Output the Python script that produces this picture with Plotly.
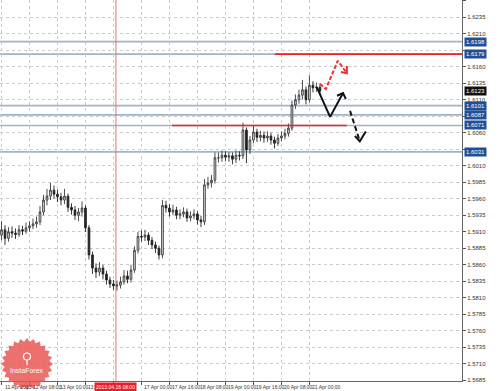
import numpy as np
import plotly.graph_objects as go

# ---------------- data ----------------
bars = list(range(92))
opens = [1.5905, 1.5913, 1.5900, 1.5910, 1.5908, 1.5906, 1.5913, 1.5911, 1.5916, 1.5919,
         1.5922, 1.5925, 1.5940, 1.5958, 1.5964, 1.5973, 1.5967, 1.5963, 1.5958, 1.5964,
         1.5947, 1.5943, 1.5935, 1.5940, 1.5946, 1.5916, 1.5875, 1.5855, 1.5849, 1.5855,
         1.5846, 1.5837, 1.5831, 1.5828, 1.5829, 1.5834, 1.5843, 1.5838, 1.5852, 1.5882,
         1.5903, 1.5902, 1.5905, 1.5897, 1.5890, 1.5885, 1.5875, 1.5950, 1.5946, 1.5940,
         1.5943, 1.5935, 1.5937, 1.5940, 1.5931, 1.5934, 1.5937, 1.5928, 1.5925, 1.5981,
         1.5984, 1.5988, 1.6022, 1.6022, 1.6026, 1.6023, 1.6025, 1.6020, 1.6026, 1.6025,
         1.6064, 1.6034, 1.6049, 1.6061, 1.6053, 1.6056, 1.6052, 1.6055, 1.6049, 1.6044,
         1.6052, 1.6055, 1.6059, 1.6067, 1.6102, 1.6110, 1.6117, 1.6125, 1.6110, 1.6132,
         1.6128, 1.6129]
highs = [1.5926, 1.5920, 1.5917, 1.5918, 1.5915, 1.5920, 1.5919, 1.5924, 1.5926, 1.5930,
         1.5933, 1.5949, 1.5966, 1.5975, 1.5984, 1.5980, 1.5974, 1.5969, 1.5975, 1.5968,
         1.5953, 1.5949, 1.5946, 1.5956, 1.5950, 1.5920, 1.5880, 1.5862, 1.5864, 1.5860,
         1.5851, 1.5842, 1.5837, 1.5836, 1.5842, 1.5852, 1.5851, 1.5860, 1.5888, 1.5910,
         1.5912, 1.5913, 1.5909, 1.5902, 1.5895, 1.5889, 1.5958, 1.5957, 1.5952, 1.5951,
         1.5948, 1.5944, 1.5947, 1.5945, 1.5941, 1.5944, 1.5941, 1.5934, 1.5990, 1.5993,
         1.5996, 1.6030, 1.6030, 1.6033, 1.6032, 1.6031, 1.6030, 1.6033, 1.6032, 1.6075,
         1.6068, 1.6055, 1.6072, 1.6066, 1.6063, 1.6062, 1.6062, 1.6060, 1.6054, 1.6058,
         1.6062, 1.6066, 1.6074, 1.6109, 1.6118, 1.6125, 1.6140, 1.6130, 1.6147, 1.6138,
         1.6136, 1.6133]
lows = [1.5897, 1.5890, 1.5895, 1.5901, 1.5899, 1.5902, 1.5905, 1.5907, 1.5910, 1.5914,
        1.5916, 1.5920, 1.5935, 1.5950, 1.5958, 1.5960, 1.5955, 1.5950, 1.5952, 1.5940,
        1.5936, 1.5928, 1.5926, 1.5933, 1.5910, 1.5868, 1.5846, 1.5840, 1.5843, 1.5838,
        1.5830, 1.5825, 1.5822, 1.5821, 1.5824, 1.5830, 1.5832, 1.5833, 1.5848, 1.5877,
        1.5895, 1.5896, 1.5890, 1.5884, 1.5878, 1.5868, 1.5870, 1.5939, 1.5933, 1.5935,
        1.5929, 1.5929, 1.5932, 1.5925, 1.5926, 1.5929, 1.5921, 1.5917, 1.5920, 1.5975,
        1.5977, 1.5983, 1.6015, 1.6016, 1.6017, 1.6016, 1.6012, 1.6014, 1.6018, 1.6020,
        1.6014, 1.6028, 1.6044, 1.6046, 1.6047, 1.6045, 1.6046, 1.6042, 1.6036, 1.6040,
        1.6047, 1.6050, 1.6054, 1.6063, 1.6096, 1.6104, 1.6111, 1.6103, 1.6106, 1.6121,
        1.6122, 1.6118]
closes = [1.5913, 1.5900, 1.5910, 1.5908, 1.5906, 1.5913, 1.5911, 1.5916, 1.5919, 1.5922,
          1.5925, 1.5940, 1.5958, 1.5964, 1.5973, 1.5967, 1.5963, 1.5958, 1.5964, 1.5947,
          1.5943, 1.5935, 1.5940, 1.5946, 1.5916, 1.5875, 1.5855, 1.5849, 1.5855, 1.5846,
          1.5837, 1.5831, 1.5828, 1.5829, 1.5834, 1.5843, 1.5838, 1.5852, 1.5882, 1.5903,
          1.5902, 1.5905, 1.5897, 1.5890, 1.5885, 1.5875, 1.5950, 1.5946, 1.5940, 1.5943,
          1.5935, 1.5937, 1.5940, 1.5931, 1.5934, 1.5937, 1.5928, 1.5925, 1.5981, 1.5984,
          1.5988, 1.6022, 1.6022, 1.6026, 1.6023, 1.6025, 1.6020, 1.6026, 1.6025, 1.6064,
          1.6034, 1.6049, 1.6061, 1.6053, 1.6056, 1.6052, 1.6055, 1.6049, 1.6044, 1.6052,
          1.6055, 1.6059, 1.6067, 1.6102, 1.6110, 1.6117, 1.6125, 1.6110, 1.6132, 1.6128,
          1.6129, 1.6123]

# time grid every 8 bars; the label at bar 32 is hidden under the red time marker
time_grid_bars = [0, 8, 16, 24, 32, 40, 48, 56, 64, 72, 80, 88]
time_tick_bars = [0, 8, 16, 24, 40, 48, 56, 64, 72, 80, 88]
time_tick_labels = ["11 Apr 2013", "12 Apr 08:00", "13 Apr 00:00", "13 Apr 16:00",
                    "17 Apr 00:00", "17 Apr 16:00", "18 Apr 08:00",
                    "19 Apr 00:00", "19 Apr 16:00", "20 Apr 08:00", "21 Apr 00:00"]

price_ticks = [1.5685, 1.5710, 1.5735, 1.5760, 1.5785, 1.5810, 1.5835, 1.5860, 1.5885,
               1.5910, 1.5935, 1.5960, 1.5985, 1.6010, 1.6035, 1.6060, 1.6085, 1.6110,
               1.6135, 1.6160, 1.6185, 1.6210, 1.6235, 1.6260]
hidden_price_ticks = [1.6035, 1.6085, 1.6185]

level_prices = [1.6198, 1.6179, 1.6101, 1.6087, 1.6071, 1.6031]
level_labels = ["1.6198", "1.6179", "1.6101", "1.6087", "1.6071", "1.6031"]
current_price = 1.6123
current_label = "1.6123"

upper_red_level = 1.6179
upper_red_span = [78.1, 131.6]
lower_red_level = 1.6071
lower_red_span = [48.7, 98.7]

vline_bar = 32.7
vline_label = "2013.04.16 08:00"

# forecast drawings (bar index, price)
red_path_x = [91.0, 92.7, 96.1, 98.7]
red_path_y = [1.6134, 1.6126, 1.6169, 1.6150]
red_head_x = [97.0, 98.7, 98.7]
red_head_y = [1.6152, 1.6150, 1.6161]

blk_path_x = [90.1, 93.9, 97.6]
blk_path_y = [1.6129, 1.6084, 1.6120]
blk_head_x = [95.9, 97.6, 98.4]
blk_head_y = [1.6116, 1.6120, 1.6111]

blkd_path_x = [99.6, 102.4]
blkd_path_y = [1.6093, 1.6047]
blkd_head_x = [101.0, 102.4, 104.1]
blkd_head_y = [1.6055, 1.6047, 1.6062]

X_RANGE = [-0.43, 131.6]
Y_RANGE = [1.5684, 1.6261]

FONT = "Liberation Sans"

# ---------------- figure ----------------
fig = go.Figure()

fig.add_trace(go.Candlestick(
    x=bars, open=opens, high=highs, low=lows, close=closes,
    increasing=dict(line=dict(color="#3a3a3a", width=0.9), fillcolor="#e0e0e0"),
    decreasing=dict(line=dict(color="#222222", width=0.9), fillcolor="#222222"),
    whiskerwidth=0, showlegend=False, hoverinfo="skip"))

def line_trace(xs, ys, color, dash="solid", width=2):
    fig.add_trace(go.Scatter(x=xs, y=ys, mode="lines", showlegend=False, hoverinfo="skip",
                             line=dict(color=color, width=width, dash=dash)))

line_trace(red_path_x, red_path_y, "#f03030", dash="4px,2px")
line_trace(red_head_x, red_head_y, "#f03030")
line_trace(blk_path_x, blk_path_y, "#111111")
line_trace(blk_head_x, blk_head_y, "#111111")
line_trace(blkd_path_x, blkd_path_y, "#111111", dash="5px,3px")
line_trace(blkd_head_x, blkd_head_y, "#111111")

shapes = []
for p in level_prices:
    shapes.append(dict(type="line", xref="paper", x0=0, x1=1, yref="y", y0=p, y1=p,
                       line=dict(color="#9fb4c8", width=1.6), layer="below"))
shapes.append(dict(type="line", xref="x", x0=upper_red_span[0], x1=upper_red_span[1],
                   yref="y", y0=upper_red_level, y1=upper_red_level,
                   line=dict(color="#e8262b", width=1.6)))
shapes.append(dict(type="line", xref="x", x0=lower_red_span[0], x1=lower_red_span[1],
                   yref="y", y0=lower_red_level, y1=lower_red_level,
                   line=dict(color="#e8262b", width=1.6)))
shapes.append(dict(type="line", xref="x", x0=vline_bar, x1=vline_bar, yref="paper", y0=0, y1=1,
                   line=dict(color="#e87070", width=1), layer="below"))

# InstaForex watermark (decorative starburst), in paper coordinates
PW, PH = 462.0, 381.0
cx, cy = 27.0, 364.0
ang = np.linspace(0, 2 * np.pi, 48, endpoint=False)
rad = np.where(np.arange(48) % 2 == 0, 26.0, 22.5)
px = cx + rad * np.cos(ang)
py = cy + rad * np.sin(ang)
path = "M " + " L ".join(f"{x / PW:.5f},{(PH - y) / PH:.5f}" for x, y in zip(px, py)) + " Z"
shapes.append(dict(type="path", xref="paper", yref="paper", path=path,
                   fillcolor="rgba(232,80,78,0.82)", line=dict(width=0), layer="above"))
shapes.append(dict(type="circle", xref="paper", yref="paper",
                   x0=(cx - 3.5) / PW, x1=(cx + 3.5) / PW,
                   y0=(PH - (cy - 4)) / PH, y1=(PH - (cy - 11)) / PH,
                   line=dict(color="white", width=1.2), fillcolor="rgba(0,0,0,0)"))
shapes.append(dict(type="line", xref="paper", yref="paper",
                   x0=cx / PW, x1=cx / PW, y0=(PH - (cy - 4)) / PH, y1=(PH - (cy + 1)) / PH,
                   line=dict(color="white", width=1.2)))

annotations = []
for b, t in zip(time_tick_bars, time_tick_labels):
    annotations.append(dict(x=b, xref="x", y=0, yref="paper", yanchor="top", xanchor="left",
                            xshift=1, yshift=-1, text=t, showarrow=False,
                            font=dict(size=5, color="#333333", family=FONT)))
for p, t in zip(level_prices, level_labels):
    annotations.append(dict(x=1, xref="paper", y=p, yref="y", xanchor="left", yanchor="middle",
                            xshift=2, text=t, showarrow=False, bgcolor="#1f4f96",
                            borderpad=1, font=dict(size=6, color="white", family=FONT)))
annotations.append(dict(x=1, xref="paper", y=current_price, yref="y", xanchor="left",
                        yanchor="middle", xshift=2, text=current_label, showarrow=False,
                        bgcolor="#111111", borderpad=1,
                        font=dict(size=6, color="white", family=FONT)))
annotations.append(dict(x=vline_bar, xref="x", y=0, yref="paper", yanchor="top", xanchor="center",
                        yshift=-1, text=vline_label, showarrow=False, bgcolor="#ee1c24",
                        borderpad=1, font=dict(size=5, color="white", family=FONT)))
annotations.append(dict(x=cx / PW, xref="paper", y=(PH - 370) / PH, yref="paper",
                        xanchor="center", yanchor="middle",
                        text="InstaForex", showarrow=False,
                        font=dict(size=7, color="white", family=FONT)))

tick_text = ["" if v in hidden_price_ticks else f"{v:.4f}" for v in price_ticks]

fig.update_layout(
    width=499, height=391,
    margin=dict(l=0, r=37, t=0, b=10),
    paper_bgcolor="white", plot_bgcolor="white",
    shapes=shapes, annotations=annotations,
    xaxis=dict(range=X_RANGE, rangeslider=dict(visible=False), tickmode="array",
               tickvals=time_grid_bars, showticklabels=False, ticks="outside", ticklen=3,
               tickcolor="#555555", showgrid=True, gridcolor="#cccccc", griddash="dot",
               gridwidth=1, zeroline=False, showline=True, linecolor="#666666", linewidth=1),
    yaxis=dict(range=Y_RANGE, side="right", tickmode="array", tickvals=price_ticks,
               ticktext=tick_text, ticks="outside", ticklen=3, tickcolor="#555555",
               tickfont=dict(size=6, color="#333333", family=FONT),
               showgrid=True, gridcolor="#cccccc", griddash="dot", gridwidth=1,
               zeroline=False, showline=True, linecolor="#666666", linewidth=1),
)

fig.write_html("out.html")
